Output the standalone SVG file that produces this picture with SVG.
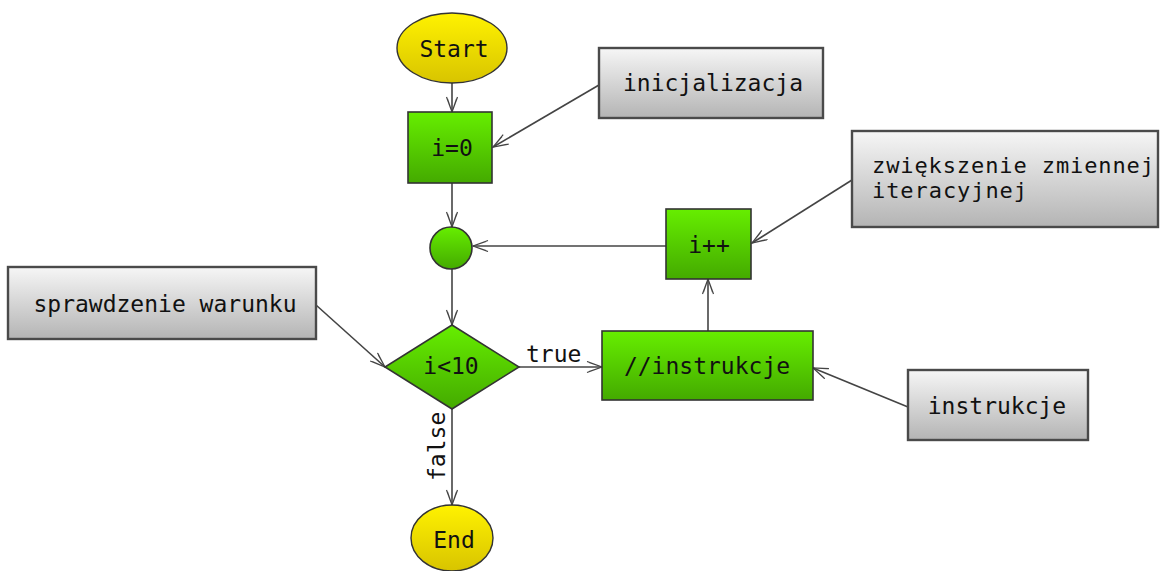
<svg xmlns="http://www.w3.org/2000/svg" width="1163" height="571" viewBox="0 0 1163 571">
<defs>
<linearGradient id="gGreen" x1="0" y1="0" x2="0" y2="1"><stop offset="0" stop-color="#66ee00"/><stop offset="1" stop-color="#44aa00"/></linearGradient>
<linearGradient id="gYellow" x1="0" y1="0" x2="0" y2="1"><stop offset="0" stop-color="#fff200"/><stop offset="1" stop-color="#d8c400"/></linearGradient>
<linearGradient id="gGray" x1="0" y1="0" x2="0" y2="1"><stop offset="0" stop-color="#f6f6f6"/><stop offset="1" stop-color="#b4b4b4"/></linearGradient>
<marker id="arr" markerUnits="userSpaceOnUse" markerWidth="20" markerHeight="14" refX="16" refY="6" orient="auto" viewBox="0 0 20 14">
<path d="M1,0.5 L16,6 L1,11.5 M3,1.5 L16,6 L3,10.5" fill="none" stroke="#444" stroke-width="1.2"/>
</marker>
<style>
.t{font-family:"DejaVu Sans Mono","Liberation Mono",monospace;font-size:23px;fill:#111}
.s{font-size:22px}
.c{text-anchor:middle}
.green{fill:url(#gGreen);stroke:#333;stroke-width:1.6}
.yellow{fill:url(#gYellow);stroke:#333;stroke-width:1.4}
.gray{fill:url(#gGray);stroke:#4a4a4a;stroke-width:2.4}
.e{fill:none;stroke:#444;stroke-width:1.6;marker-end:url(#arr)}
</style>
</defs>
<rect width="1163" height="571" fill="#ffffff"/>
<g id="connectors">
<line class="e" x1="452" y1="82" x2="452" y2="112"/>
<line class="e" x1="599" y1="85" x2="493" y2="147"/>
<line class="e" x1="452" y1="183" x2="452" y2="227"/>
<line class="e" x1="666" y1="246" x2="473" y2="246"/>
<line class="e" x1="852" y1="180" x2="752" y2="243"/>
<line class="e" x1="452" y1="269" x2="452" y2="325"/>
<line class="e" x1="316" y1="305" x2="385" y2="367"/>
<line class="e" x1="519" y1="367" x2="602" y2="367"/>
<text class="t" x="526" y="362">true</text>
<line class="e" x1="708" y1="331" x2="708" y2="279"/>
<line class="e" x1="908" y1="407" x2="813" y2="368"/>
<line class="e" x1="452" y1="409" x2="452" y2="505"/>
<text class="t" transform="translate(445,481) rotate(-90)">false</text>
</g>
<g id="start"><ellipse class="yellow" cx="452" cy="48" rx="55" ry="35"/><text class="t c" x="454" y="57">Start</text></g>
<g id="init"><rect class="green" x="408" y="112" width="84" height="71"/><text class="t c" x="452" y="156">i=0</text></g>
<g id="inicjalizacja"><rect class="gray" x="599" y="48" width="224" height="70"/><text class="t c" x="713" y="91">inicjalizacja</text></g>
<g id="join"><circle class="green" cx="451" cy="248" r="21"/></g>
<g id="incr"><rect class="green" x="666" y="209" width="85" height="70"/><text class="t c" x="709" y="253">i++</text></g>
<g id="zwiekszenie"><rect class="gray" x="852" y="131" width="306" height="96"/><text class="t s" x="872" y="173" textLength="282" lengthAdjust="spacing">zwiększenie zmiennej</text><text class="t s" x="872" y="198" textLength="155" lengthAdjust="spacing">iteracyjnej</text></g>
<g id="sprawdzenie"><rect class="gray" x="8" y="267" width="308" height="72"/><text class="t c" x="165" y="312">sprawdzenie warunku</text></g>
<g id="cond"><polygon class="green" points="452,325 519,367 452,409 385,367"/><text class="t c" x="451" y="374">i&lt;10</text></g>
<g id="body"><rect class="green" x="602" y="331" width="211" height="69"/><text class="t c" x="707" y="374">//instrukcje</text></g>
<g id="instrukcje"><rect class="gray" x="908" y="370" width="180" height="70"/><text class="t c" x="997" y="414">instrukcje</text></g>
<g id="end"><ellipse class="yellow" cx="452" cy="538" rx="41" ry="33"/><text class="t c" x="454" y="548">End</text></g>
</svg>
